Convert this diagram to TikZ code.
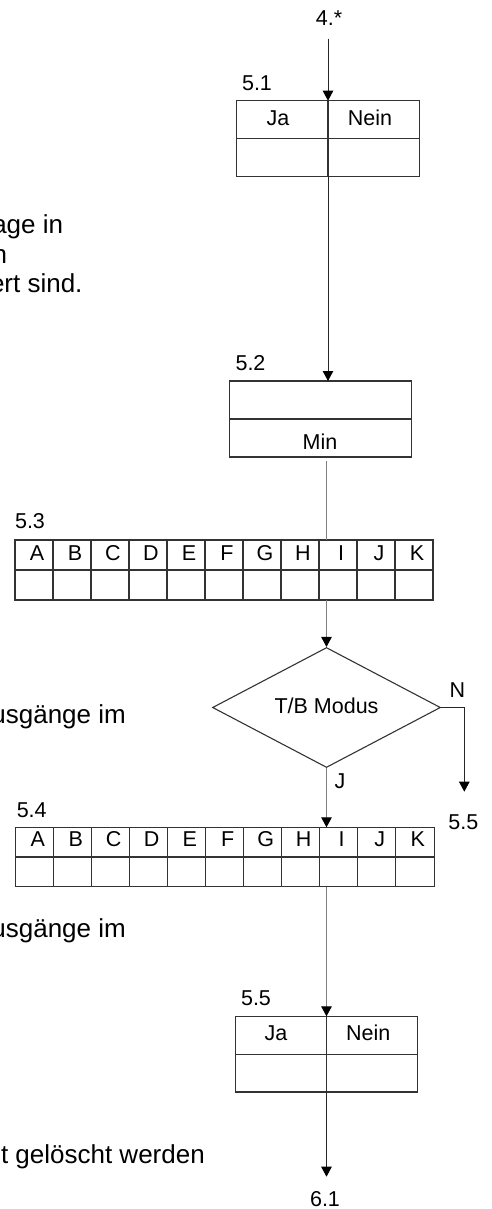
\documentclass[tikz,border=0pt]{standalone}
\usepackage{fontspec}
\setmainfont{Liberation Sans}
\usetikzlibrary{arrows.meta,shapes.geometric}
\newcommand\cellfont{\fontsize{21.5}{25}\selectfont}
\newcommand\notefont{\fontsize{26}{30}\selectfont}

\begin{document}
\begin{tikzpicture}[x=1pt,y=-1pt,
  frame/.style={draw=black!80,line width=1.5pt,inner sep=0pt,outer sep=0pt},
  grid/.style={draw=black!80,line width=1.3pt},
  lbl/.style={inner sep=0pt,font=\cellfont},
  note/.style={inner sep=0pt,anchor=base east,font=\notefont},
  arr/.style={draw=black!85,line width=1pt,-{Triangle[width=10.5pt,length=10pt,color=black]}},
  garr/.style={arr,draw=black!50},
  gline/.style={draw=black!50,line width=1pt},
  dia/.style={diamond,aspect=1.9,draw=black!80,line width=1.1pt,inner sep=0pt,
    minimum width=228pt,minimum height=120pt,font=\cellfont}]
  \useasboundingbox (0,0) rectangle (491,1209);

  % text cut at the left margin
  \node[note] (t1) at (63.3,233) {age in};
  \node[note] (t2) at (7.3,263) {n};
  \node[note] (t3) at (82.7,292) {ert sind.};
  \node[note] (t4) at (126,723) {usgänge im};
  \node[note] (t5) at (126,937) {usgänge im};
  \node[note] (t6) at (205,1163) {t gelöscht werden};

  \coordinate (spine) at (326.5,0);

  % 5.1
  \node[lbl] (in4) at (329,18) {4.*};
  \node[lbl] (n51) at (257,83) {5.1};
  \node[frame,minimum width=182.6pt,minimum height=75.6pt] (b51) at (328,138.5) {};
  \draw[grid] (b51.west) -- (b51.east);
  \draw[grid] (b51.north) -- (b51.south);
  \node[lbl] (b51ja) at (278,118) {Ja};
  \node[lbl] (b51nein) at (370,118) {Nein};
  \draw[arr,shorten <=13pt] (in4.south -| b51.north) -- (b51.north);

  % 5.2
  \node[lbl] (n52) at (250.5,363) {5.2};
  \node[frame,minimum width=182.4pt,minimum height=76pt] (b52) at (320.5,419) {};
  \draw[grid] (b52.west) -- (b52.east);
  \node[lbl] (b52min) at (320,441.7) {Min};
  \draw[arr] (b51.south) -- (b51.south |- b52.north);

  % 5.3
  \node[lbl] (n53) at (30,520.7) {5.3};
  \node[frame,minimum width=418pt,minimum height=60pt] (t53) at (224,570) {};
  \draw[grid] (t53.west) -- (t53.east);
  \foreach \i in {1,...,10}
    \draw[grid] ([xshift=38*\i]t53.north west) -- ([xshift=38*\i]t53.south west);
  \foreach \l [count=\i] in {A,B,C,D,E,F,G,H,I,J,K}
    \node[lbl] (t53\l) at ({15+38*\i-16},553) {\l};
  \draw[gline,shorten <=4pt] (b52.south -| spine) -- (t53.north -| spine);

  % T/B
  \node[dia] (tb) at (326.5,707.5) {\raisebox{3pt}{T/B Modus}};
  \draw[garr] (t53.south -| tb.north) -- (tb.north);
  \node[lbl] (lN) at (457.3,690) {N};
  \coordinate (o55) at (464.3,791.7);
  \draw[arr] (tb.east) -| (o55);
  \node[lbl] (n55b) at (463.3,821.7) {5.5};
  \node[lbl] (lJ) at (340,781.7) {J};

  % 5.4
  \node[lbl] (n54) at (31.7,810) {5.4};
  \node[frame,minimum width=418.6pt,minimum height=59.4pt] (t54) at (225,857) {};
  \draw[grid] (t54.west) -- (t54.east);
  \foreach \i in {1,...,10}
    \draw[grid] ([xshift=38*\i]t54.north west) -- ([xshift=38*\i]t54.south west);
  \foreach \l [count=\i] in {A,B,C,D,E,F,G,H,I,J,K}
    \node[lbl] (t54\l) at ({15.7+38*\i-16},839.3) {\l};
  \draw[garr] (tb.south) -- (tb.south |- t54.north);

  % 5.5
  \node[lbl] (n55) at (256,998.3) {5.5};
  \node[frame,minimum width=181.6pt,minimum height=75.7pt] (b55) at (326.5,1054.2) {};
  \draw[grid] (b55.west) -- (b55.east);
  \draw[grid] (b55.north) -- (b55.south);
  \node[lbl] (b55ja) at (276,1033.3) {Ja};
  \node[lbl] (b55nein) at (368.3,1033.3) {Nein};
  \draw[garr] (b55.north |- t54.south) -- (b55.north);

  % 6.1
  \coordinate (o61) at (326.5,1176.7);
  \draw[arr] (b55.south) -- (o61);
  \node[lbl] (n61) at (325,1199) {6.1};
\end{tikzpicture}
\end{document}
